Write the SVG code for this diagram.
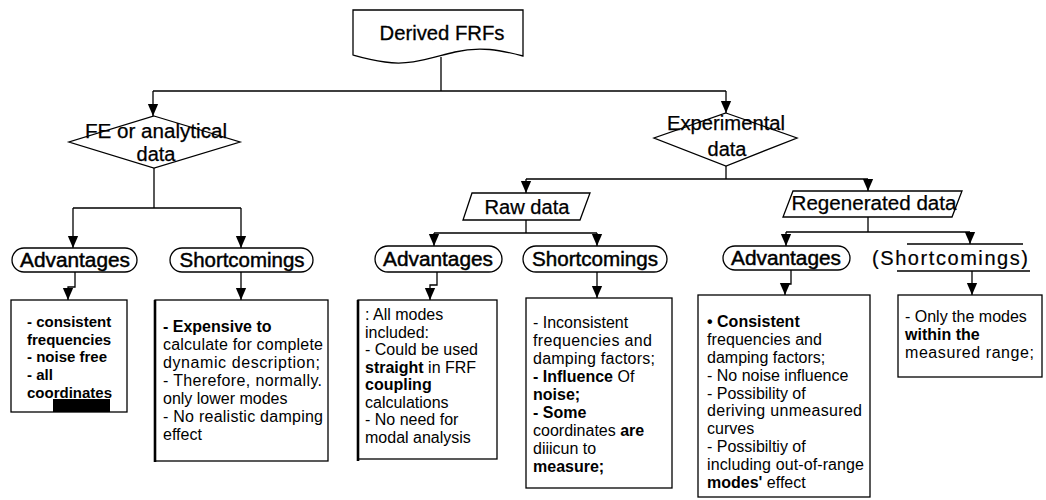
<svg xmlns="http://www.w3.org/2000/svg" width="1046" height="500" viewBox="0 0 1046 500">
<style>
  .bg{fill:#fff}
  .shape{fill:#fff;stroke:#000;stroke-width:1.3}
  .thick{stroke:#000;stroke-width:2.6;fill:none}
  .conn{fill:none;stroke:#000;stroke-width:1.3}
  text{font-family:"Liberation Sans",Arial,sans-serif;fill:#000}
  .title{font-size:20px;stroke:#000;stroke-width:0.3}
  .dec{font-size:20px;stroke:#000;stroke-width:0.25}
  .pill{font-size:20px;stroke:#000;stroke-width:0.45}
  .b15{font-size:15px;font-weight:bold}
  .t{font-size:16px}
  .bold{font-weight:bold}
</style>
<defs>
  <marker id="ah" markerUnits="userSpaceOnUse" markerWidth="12" markerHeight="14" viewBox="0 0 14 12" refX="14" refY="6" orient="auto">
    <path d="M0,0 L14,6 L0,12 Z" fill="#000"/>
  </marker>
</defs>
<rect class="bg" x="0" y="0" width="1046" height="500"/>

<g id="connectors">
  <path class="conn" d="M441,57 V91 M153,91 H726"/>
  <path class="conn" marker-end="url(#ah)" d="M153,91 V116"/>
  <path class="conn" marker-end="url(#ah)" d="M726,91 V113"/>
  <path class="conn" d="M154,168 V208 M73,208 H241"/>
  <path class="conn" marker-end="url(#ah)" d="M73,208 V248"/>
  <path class="conn" marker-end="url(#ah)" d="M241,208 V248"/>
  <path class="conn" d="M726,166 V179 M526,179 H868"/>
  <path class="conn" marker-end="url(#ah)" d="M526,179 V193"/>
  <path class="conn" marker-end="url(#ah)" d="M868,179 V191"/>
  <path class="conn" d="M526,220 V233 M434,233 H597"/>
  <path class="conn" marker-end="url(#ah)" d="M434,233 V246"/>
  <path class="conn" marker-end="url(#ah)" d="M597,233 V246"/>
  <path class="conn" d="M868,217 V232 M786,232 H970"/>
  <path class="conn" marker-end="url(#ah)" d="M786,232 V246"/>
  <path class="conn" marker-end="url(#ah)" d="M970,232 V244"/>
  <path class="conn" marker-end="url(#ah)" d="M75,272 V287 H68 V300"/>
  <path class="conn" marker-end="url(#ah)" d="M241,272 V300"/>
  <path class="conn" marker-end="url(#ah)" d="M437,272 V285 H430 V300"/>
  <path class="conn" marker-end="url(#ah)" d="M597,272 V298"/>
  <path class="conn" marker-end="url(#ah)" d="M791,270 V284 H785 V295"/>
  <path class="conn" marker-end="url(#ah)" d="M972,271 V295"/>
</g>

<g id="derived-frfs">
  <path class="shape" d="M353,10 H523 V56 C500,50 480,46 455,52 C430,58 410,66 385,62 C370,60 360,57 353,55 Z"/>
  <text class="title" x="442" y="40" text-anchor="middle" textLength="125" lengthAdjust="spacingAndGlyphs">Derived FRFs</text>
</g>

<g id="fe-analytical">
  <polygon class="shape" points="154,116 240,142 154,168 69,142"/>
  <text class="dec" x="156" y="138" text-anchor="middle" textLength="142" lengthAdjust="spacingAndGlyphs">FE or analytical</text>
  <text class="dec" x="156" y="161" text-anchor="middle">data</text>
</g>

<g id="experimental">
  <polygon class="shape" points="726,113 797,138 726,166 654,138"/>
  <text class="dec" x="726" y="130" text-anchor="middle" textLength="118" lengthAdjust="spacingAndGlyphs">Experimental</text>
  <text class="dec" x="727" y="156" text-anchor="middle">data</text>
</g>

<g id="raw-data">
  <polygon class="shape" points="472,193 590,193 580,220 463,220"/>
  <text class="dec" x="527" y="214" text-anchor="middle" textLength="85" lengthAdjust="spacingAndGlyphs">Raw data</text>
</g>

<g id="regenerated-data">
  <polygon class="shape" points="793,191 962,191 952,217 783,217"/>
  <text class="dec" x="874" y="210" text-anchor="middle" textLength="165" lengthAdjust="spacingAndGlyphs">Regenerated data</text>
</g>

<g id="fe-advantages">
  <rect class="shape" x="12" y="248" width="125" height="24" rx="12"/>
  <text class="pill" x="75" y="267" text-anchor="middle" textLength="110" lengthAdjust="spacingAndGlyphs">Advantages</text>
</g>
<g id="fe-shortcomings">
  <rect class="shape" x="170" y="248" width="143" height="24" rx="12"/>
  <text class="pill" x="242" y="267" text-anchor="middle" textLength="125" lengthAdjust="spacingAndGlyphs">Shortcomings</text>
</g>
<g id="raw-advantages">
  <rect class="shape" x="375" y="246" width="127" height="26" rx="13"/>
  <text class="pill" x="438" y="266" text-anchor="middle" textLength="110" lengthAdjust="spacingAndGlyphs">Advantages</text>
</g>
<g id="raw-shortcomings">
  <rect class="shape" x="523" y="246" width="144" height="26" rx="13"/>
  <text class="pill" x="595" y="266" text-anchor="middle" textLength="126" lengthAdjust="spacingAndGlyphs">Shortcomings</text>
</g>
<g id="regen-advantages">
  <rect class="shape" x="723" y="246" width="127" height="24" rx="12"/>
  <text class="pill" x="786" y="265" text-anchor="middle" textLength="110" lengthAdjust="spacingAndGlyphs">Advantages</text>
</g>
<g id="regen-shortcomings">
  <path class="conn" d="M907,244 H1023 M897,271 H1030"/>
  <text x="872" y="265" style="font-size:20px;stroke:#000;stroke-width:0.2" textLength="156" lengthAdjust="spacing">(Shortcomings)</text>
</g>

<g id="fe-advantages-box">
  <rect class="shape" x="11" y="300" width="116" height="112"/>
  <text class="b15" x="27" y="327">- consistent</text>
  <text class="b15" x="27" y="345">frequencies</text>
  <text class="b15" x="27" y="362">- noise free</text>
  <text class="b15" x="27" y="380">- all</text>
  <text class="b15" x="27" y="398">coordinates</text>
  <rect x="53" y="399" width="57" height="13" fill="#000"/>
</g>

<g id="fe-shortcomings-box">
  <rect class="shape" x="155" y="300" width="173" height="161"/>
  <path class="thick" d="M155,300 V462"/>
  <text class="t" x="163" y="332"><tspan class="bold">- Expensive to</tspan></text>
  <text class="t" x="163" y="350" textLength="160" lengthAdjust="spacing">calculate for complete</text>
  <text class="t" x="163" y="368" textLength="157" lengthAdjust="spacing">dynamic description;</text>
  <text class="t" x="163" y="386" textLength="159" lengthAdjust="spacing">- Therefore, normally.</text>
  <text class="t" x="163" y="404">only lower modes</text>
  <text class="t" x="163" y="422" textLength="160" lengthAdjust="spacing">- No realistic damping</text>
  <text class="t" x="163" y="440">effect</text>
</g>

<g id="raw-advantages-box">
  <rect class="shape" x="358" y="300" width="139" height="159"/>
  <path class="thick" d="M358,300 V461"/>
  <text class="t" x="365" y="320">: All modes</text>
  <text class="t" x="365" y="337.5">included:</text>
  <text class="t" x="365" y="355">- Could be used</text>
  <text class="t" x="365" y="372.5"><tspan class="bold">straight</tspan> in FRF</text>
  <text class="t" x="365" y="390"><tspan class="bold">coupling</tspan></text>
  <text class="t" x="365" y="407.5">calculations</text>
  <text class="t" x="365" y="425">- No need for</text>
  <text class="t" x="365" y="442.5">modal analysis</text>
</g>

<g id="raw-shortcomings-box">
  <rect class="shape" x="526" y="298" width="146" height="190"/>
  <text class="t" x="533" y="328">-  Inconsistent</text>
  <text class="t" x="533" y="346" textLength="119" lengthAdjust="spacing">frequencies and</text>
  <text class="t" x="533" y="364" textLength="122" lengthAdjust="spacing">damping factors;</text>
  <text class="t" x="533" y="382"><tspan class="bold">- Influence</tspan> Of</text>
  <text class="t" x="533" y="400"><tspan class="bold">noise;</tspan></text>
  <text class="t" x="533" y="418"><tspan class="bold">- Some</tspan></text>
  <text class="t" x="533" y="436">coordinates <tspan class="bold">are</tspan></text>
  <text class="t" x="533" y="454">diiicun  to</text>
  <text class="t" x="533" y="472"><tspan class="bold">measure;</tspan></text>
</g>

<g id="regen-advantages-box">
  <rect class="shape" x="698" y="295" width="172" height="202"/>
  <text class="t" x="707" y="327"><tspan class="bold">• Consistent</tspan></text>
  <text class="t" x="707" y="345" textLength="115" lengthAdjust="spacing">frequencies and</text>
  <text class="t" x="707" y="363">damping factors;</text>
  <text class="t" x="707" y="381">- No noise influence</text>
  <text class="t" x="707" y="399">- Possibility of</text>
  <text class="t" x="707" y="416" textLength="155" lengthAdjust="spacing">deriving unmeasured</text>
  <text class="t" x="707" y="434">curves</text>
  <text class="t" x="707" y="452">- Possibiltiy of</text>
  <text class="t" x="707" y="470" textLength="157" lengthAdjust="spacing">including out-of-range</text>
  <text class="t" x="707" y="488"><tspan class="bold">modes'</tspan> effect</text>
</g>

<g id="regen-shortcomings-box">
  <rect class="shape" x="898" y="295" width="144" height="82"/>
  <text class="t" x="905" y="322">- Only the modes</text>
  <text class="t" x="905" y="340"><tspan class="bold">within the</tspan></text>
  <text class="t" x="905" y="358" textLength="129" lengthAdjust="spacing">measured range;</text>
</g>
</svg>
